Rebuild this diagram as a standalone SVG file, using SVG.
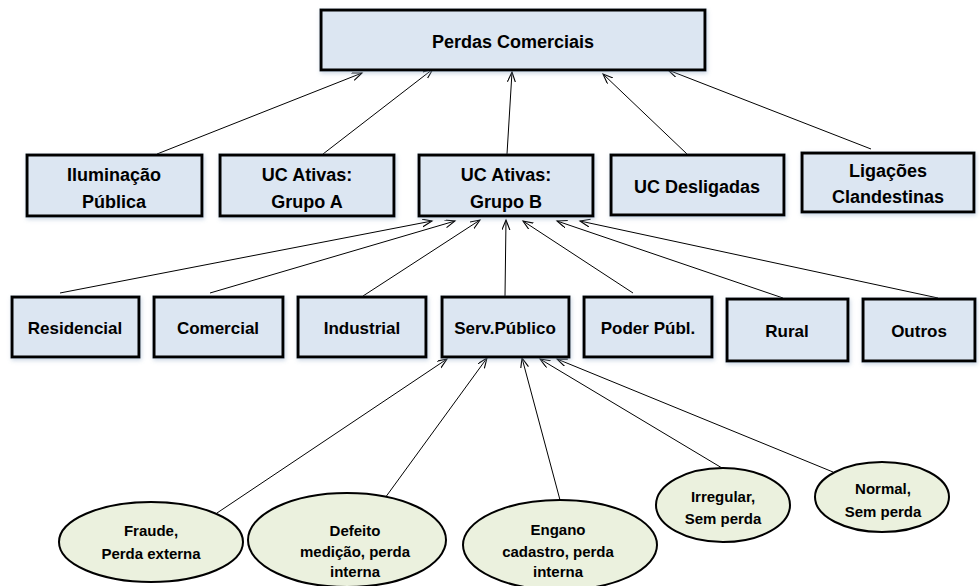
<svg xmlns="http://www.w3.org/2000/svg" width="980" height="586" viewBox="0 0 980 586">
  <defs>
    <marker id="arrow" markerUnits="userSpaceOnUse" markerWidth="12" markerHeight="10" refX="10" refY="4" orient="auto">
      <path d="M0,0 L10,4 L0,8" fill="none" stroke="#000" stroke-width="1.1"/>
    </marker>
    <filter id="shadow" x="-10%" y="-10%" width="130%" height="140%">
      <feDropShadow dx="1" dy="2" stdDeviation="2" flood-color="#8ea6c4" flood-opacity="0.45"/>
    </filter>
  </defs>
  <style>
    .box { fill: #dce6f2; stroke: #000; stroke-width: 3; filter: url(#shadow); }
    .oval { fill: #ebf1de; stroke: #000; stroke-width: 2; }
    .t { font-family: "Liberation Sans", Arial, sans-serif; font-weight: bold; fill: #000; text-anchor: middle; }
    .t1 { font-size: 18px; }
    .t2 { font-size: 18px; }
    .t3 { font-size: 17px; }
    .t4 { font-size: 15px; }
    .link { stroke: #000; stroke-width: 1; fill: none; marker-end: url(#arrow); }
  </style>

  <rect width="980" height="586" fill="#fff"/>

  <!-- connectors: each line runs from the child up to its parent -->
  <g id="connectors">
    <line class="link" x1="157" y1="154" x2="362" y2="73"/>
    <line class="link" x1="323" y1="154" x2="433" y2="69"/>
    <line class="link" x1="507" y1="154" x2="512" y2="72"/>
    <line class="link" x1="687" y1="154" x2="603" y2="74"/>
    <line class="link" x1="871" y1="149" x2="668" y2="70"/>

    <line class="link" x1="60" y1="293" x2="432" y2="221"/>
    <line class="link" x1="210" y1="293" x2="455" y2="221"/>
    <line class="link" x1="363" y1="296" x2="480" y2="220"/>
    <line class="link" x1="505" y1="296" x2="506" y2="220"/>
    <line class="link" x1="633" y1="293" x2="523" y2="221"/>
    <line class="link" x1="783" y1="298" x2="557" y2="221"/>
    <line class="link" x1="938" y1="298" x2="580" y2="221"/>

    <line class="link" x1="217" y1="513" x2="447" y2="359"/>
    <line class="link" x1="385" y1="498" x2="487" y2="358"/>
    <line class="link" x1="560" y1="500" x2="522" y2="358"/>
    <line class="link" x1="722" y1="468" x2="540" y2="359"/>
    <line class="link" x1="833" y1="472" x2="557" y2="359"/>
  </g>

  <!-- root -->
  <g id="perdas-comerciais">
    <rect class="box" x="321" y="10" width="384" height="60"/>
    <text class="t t1" x="513" y="48">Perdas Comerciais</text>
  </g>

  <!-- second level -->
  <g id="iluminacao-publica">
    <rect class="box" x="27" y="155" width="175" height="61"/>
    <text class="t t2" x="114" y="181">Iluminação</text>
    <text class="t t2" x="114" y="208">Pública</text>
  </g>
  <g id="uc-ativas-a">
    <rect class="box" x="220" y="155" width="174" height="61"/>
    <text class="t t2" x="307" y="181">UC Ativas:</text>
    <text class="t t2" x="307" y="208">Grupo A</text>
  </g>
  <g id="uc-ativas-b">
    <rect class="box" x="419" y="155" width="174" height="61"/>
    <text class="t t2" x="506" y="181">UC Ativas:</text>
    <text class="t t2" x="506" y="208">Grupo B</text>
  </g>
  <g id="uc-desligadas">
    <rect class="box" x="611" y="155" width="173" height="60"/>
    <text class="t t2" x="697" y="193">UC Desligadas</text>
  </g>
  <g id="ligacoes-clandestinas">
    <rect class="box" x="802" y="153" width="172" height="59"/>
    <text class="t t2" x="888" y="177">Ligações</text>
    <text class="t t2" x="888" y="203">Clandestinas</text>
  </g>

  <!-- third level: consumer classes -->
  <g id="residencial">
    <rect class="box" x="12" y="297" width="127" height="60"/>
    <text class="t t3" x="75" y="334">Residencial</text>
  </g>
  <g id="comercial">
    <rect class="box" x="154" y="297" width="129" height="60"/>
    <text class="t t3" x="218" y="334">Comercial</text>
  </g>
  <g id="industrial">
    <rect class="box" x="298" y="297" width="128" height="60"/>
    <text class="t t3" x="362" y="334">Industrial</text>
  </g>
  <g id="serv-publico">
    <rect class="box" x="442" y="297" width="127" height="60"/>
    <text class="t t3" x="505" y="334">Serv.Público</text>
  </g>
  <g id="poder-publico">
    <rect class="box" x="584" y="297" width="128" height="60"/>
    <text class="t t3" x="648" y="334">Poder Públ.</text>
  </g>
  <g id="rural">
    <rect class="box" x="727" y="299" width="121" height="62"/>
    <text class="t t3" x="787" y="337">Rural</text>
  </g>
  <g id="outros">
    <rect class="box" x="863" y="299" width="112" height="62"/>
    <text class="t t3" x="919" y="337">Outros</text>
  </g>

  <!-- fourth level: situations -->
  <g id="fraude">
    <ellipse class="oval" cx="151" cy="542" rx="92" ry="40"/>
    <text class="t t4" x="151" y="536">Fraude,</text>
    <text class="t t4" x="151" y="559">Perda externa</text>
  </g>
  <g id="defeito">
    <ellipse class="oval" cx="347" cy="540" rx="99" ry="47"/>
    <text class="t t4" x="355" y="536">Defeito</text>
    <text class="t t4" x="355" y="557">medição, perda</text>
    <text class="t t4" x="355" y="577">interna</text>
  </g>
  <g id="engano">
    <ellipse class="oval" cx="560" cy="545" rx="97" ry="45"/>
    <text class="t t4" x="558" y="535">Engano</text>
    <text class="t t4" x="558" y="557">cadastro, perda</text>
    <text class="t t4" x="558" y="577">interna</text>
  </g>
  <g id="irregular">
    <ellipse class="oval" cx="723" cy="505" rx="67" ry="37"/>
    <text class="t t4" x="723" y="502">Irregular,</text>
    <text class="t t4" x="723" y="524">Sem perda</text>
  </g>
  <g id="normal">
    <ellipse class="oval" cx="882" cy="497" rx="67" ry="35"/>
    <text class="t t4" x="883" y="494">Normal,</text>
    <text class="t t4" x="883" y="517">Sem perda</text>
  </g>
</svg>
